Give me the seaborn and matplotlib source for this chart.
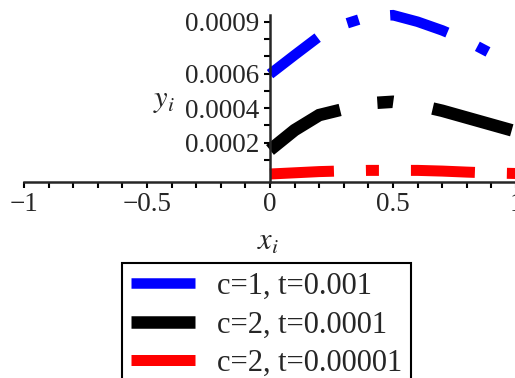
import numpy as np
import pandas as pd
import seaborn as sns
import matplotlib.pyplot as plt
from matplotlib.lines import Line2D
from matplotlib.ticker import FixedLocator

## DATOS
x_i = [0.0, 0.1, 0.2, 0.3, 0.4, 0.5, 0.6, 0.7, 0.8, 0.9, 1.0]
y_c1_t1e3 = [0.000597, 0.000707, 0.000815, 0.000885, 0.00093, 0.000938, 0.0009, 0.00085, 0.00079, 0.000715, 0.00064]
y_c2_t1e4 = [0.000158, 0.000273, 0.00036, 0.000395, 0.000428, 0.000437, 0.000418, 0.000385, 0.000345, 0.000305, 0.000265]
y_c2_t1e5 = [0.000019, 0.000026, 0.000033, 0.000037, 0.00004, 0.00004, 0.00004, 0.000036, 0.00003, 0.000025, 0.000022]

etiquetas = ["c=1, t=0.001", "c=2, t=0.0001", "c=2, t=0.00001"]
colores = ["#0000ff", "#000000", "#ff0000"]

xticks = [-1, -0.5, 0, 0.5, 1]
xtick_labels = ["\u22121", "\u22120.5", "0", "0.5", "1"]
yticks = [0.0002, 0.0004, 0.0006, 0.0009]
ytick_labels = ["0.0002", "0.0004", "0.0006", "0.0009"]
yticks_menores = [0.0001, 0.0003, 0.0005, 0.0007, 0.0008]

sns.set_style("ticks")
plt.rcParams["font.family"] = ["Liberation Serif", "DejaVu Serif"]
plt.rcParams["mathtext.fontset"] = "stix"

DPI = 100
px = 72 / DPI  # un pixel en puntos

fig = plt.figure(figsize=(5.15, 3.78), dpi=DPI)
ax = fig.add_axes([24 / 515, 1 - 182 / 378, 492 / 515, 167 / 378])

# grosor (px) y patrón guion-punto (px) de cada curva
estilos = [(10.5, (60, 33, 12, 32)), (12.5, (82, 38, 16, 40)), (11, (64, 32, 13, 32))]
series = [y_c1_t1e3, y_c2_t1e4, y_c2_t1e5]

for ys, color, (ancho, patron) in zip(series, colores, estilos):
    sns.lineplot(x=x_i, y=ys, color=color, linewidth=ancho * px, ax=ax, clip_on=False)
    linea = ax.lines[-1]
    linea.set_dashes([p / ancho for p in patron])
    linea.set_dash_capstyle("butt")
    linea.set_dash_joinstyle("miter")

ax.set_xlim(-1, 1)
ax.set_ylim(-0.0000272, 0.000939)

# ejes estilo Maple
ax.spines["left"].set_position(("data", 0))
ax.spines["right"].set_visible(False)
ax.spines["top"].set_visible(False)
for s in ["left", "bottom"]:
    ax.spines[s].set_linewidth(1.8)

ax.set_xticks(xticks, labels=xtick_labels)
ax.xaxis.set_minor_locator(FixedLocator(np.arange(-1, 1.01, 0.1)))
ax.set_yticks(yticks, labels=ytick_labels)
ax.yaxis.set_minor_locator(FixedLocator(yticks_menores))
ax.tick_params(which="both", direction="out", length=4, width=1.5, color="black")
ax.tick_params(axis="both", labelsize=19.5)
ax.tick_params(axis="x", pad=3)
ax.tick_params(axis="y", pad=4)

ax.set_xlabel(r"$x_i$", fontsize=22)
ax.xaxis.set_label_coords(0.496, -0.359)
ax.xaxis.label.set_va("center")
ax.xaxis.label.set_ha("center")
ax.set_ylabel(r"$y_i$", fontsize=22, rotation=0)
ax.yaxis.set_label_coords(0.285, 0.491)
ax.yaxis.label.set_va("center")
ax.yaxis.label.set_ha("center")

handles = [Line2D([], [], color=c, lw=e[0] * px, solid_capstyle="butt")
           for c, e in zip(colores, estilos)]
leg = fig.legend(handles, etiquetas, loc="upper left",
                 bbox_to_anchor=(122 / 515, 1 - 263 / 378), fontsize=22,
                 frameon=True, fancybox=False, edgecolor="black", framealpha=1,
                 borderpad=0.3, labelspacing=0.3, handlelength=2.1,
                 handletextpad=0.7, borderaxespad=0)
leg.get_frame().set_linewidth(1.5)

fig.savefig("out.png", dpi=DPI)
